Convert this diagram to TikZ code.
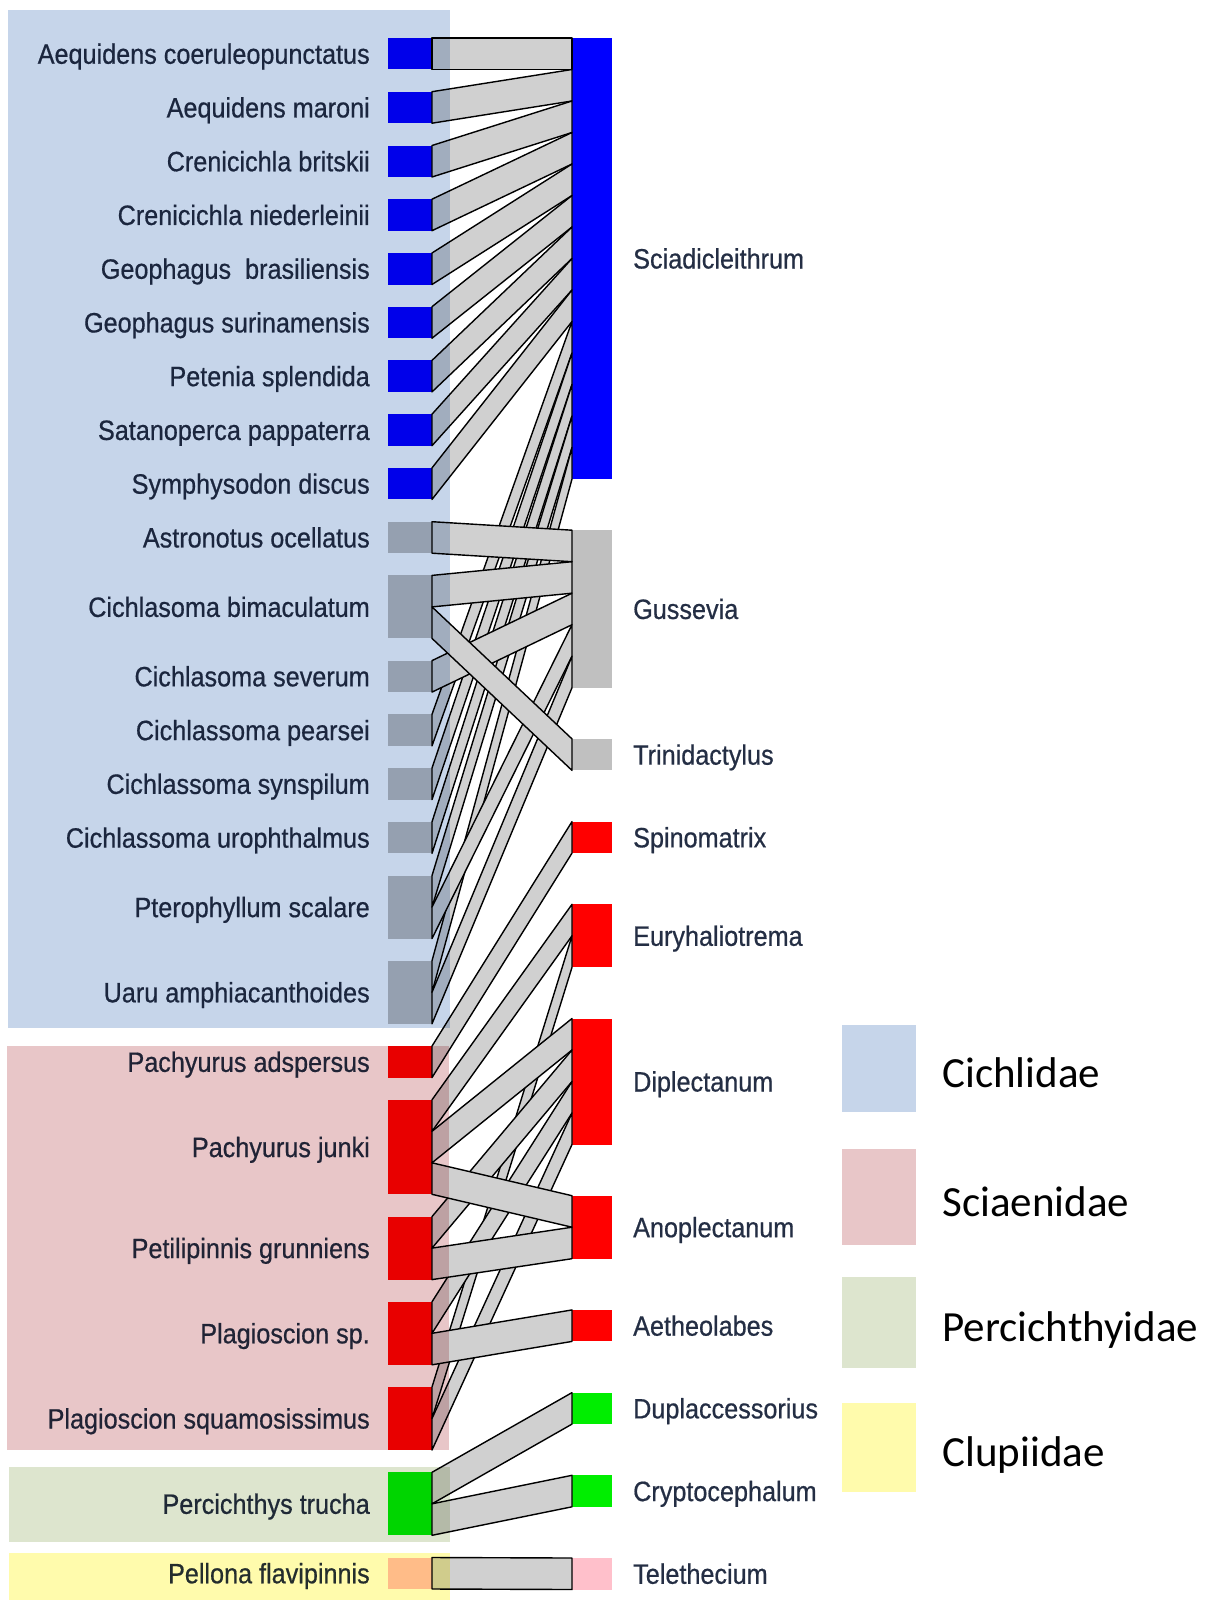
\documentclass[tikz,border=0pt]{standalone}
\usepackage{fontspec}
\setmainfont[FakeStretch=0.9,FakeBold=0.6]{Liberation Sans}
\newfontfamily\legendfont{Carlito}
\usetikzlibrary{positioning,calc}

\definecolor{cichbg}{RGB}{198,213,234}
\definecolor{sciabg}{RGB}{232,198,200}
\definecolor{percbg}{RGB}{221,229,206}
\definecolor{clupbg}{RGB}{255,251,172}
\definecolor{sciadblue}{RGB}{0,0,255}
\definecolor{gussgrey}{RGB}{192,192,192}
\definecolor{diplred}{RGB}{255,0,0}
\definecolor{duplgreen}{RGB}{0,238,0}
\definecolor{telepink}{RGB}{255,192,203}
\definecolor{linkgrey}{RGB}{208,208,208}
\definecolor{labtext}{RGB}{36,46,68}

\begin{document}
\begin{tikzpicture}[x=1pt,y=-1pt,
    host/.style={rectangle, inner sep=0pt, outer sep=0pt, minimum width=44pt, anchor=north west},
    para/.style={rectangle, inner sep=0pt, outer sep=0pt, minimum width=40pt, anchor=north west},
    link/.style={draw=black, fill=linkgrey, line width=1.4pt, line join=round},
    lab/.style={font=\fontsize{28}{30}\selectfont, text=labtext, inner sep=0pt, text height=20pt, text depth=0pt},
    leg/.style={rectangle, inner sep=0pt, minimum width=74pt},
    legtext/.style={font=\legendfont\fontsize{43}{46}\selectfont, inner sep=0pt, text height=28pt, text depth=0pt}
  ]
    \useasboundingbox (0,0) rectangle (1211,1600);

    % host fishes
    \foreach \n/\y/\h/\c/\t in {
        aecoe/38/31.5/sciadblue/Aequidens coeruleopunctatus,
        aemar/91.7/31.5/sciadblue/Aequidens maroni,
        crbri/145.5/31.5/sciadblue/Crenicichla britskii,
        crnie/199.2/31.5/sciadblue/Crenicichla niederleinii,
        gebra/253/31.5/sciadblue/Geophagus\ \ brasiliensis,
        gesur/306.7/31.5/sciadblue/Geophagus surinamensis,
        pespl/360.4/31.5/sciadblue/Petenia splendida,
        sapap/414.2/31.5/sciadblue/Satanoperca pappaterra,
        sydis/467.9/31.5/sciadblue/Symphysodon discus,
        asoce/521.7/31.5/gussgrey/Astronotus ocellatus,
        cibim/575.4/63/gussgrey/Cichlasoma bimaculatum,
        cisev/660.6/31.5/gussgrey/Cichlasoma severum,
        cipea/714.4/31.5/gussgrey/Cichlassoma pearsei,
        cisyn/768.1/31.5/gussgrey/Cichlassoma synspilum,
        ciuro/821.9/31.5/gussgrey/Cichlassoma urophthalmus,
        ptsca/875.6/63/gussgrey/Pterophyllum scalare,
        uaamp/960.8/63/gussgrey/Uaru amphiacanthoides,
        paads/1046.1/31.5/diplred/Pachyurus adspersus,
        pajun/1099.8/94.5/diplred/Pachyurus junki,
        pegru/1216.6/63/diplred/Petilipinnis grunniens,
        plasp/1301.8/63/diplred/Plagioscion sp.,
        plsqu/1387/63/diplred/Plagioscion squamosissimus,
        petru/1472.3/63/duplgreen/Percichthys trucha,
        pefla/1557.5/31.5/telepink/Pellona flavipinnis}
      {
        \node[host, fill=\c, minimum height=\h pt] (\n) at (388,\y) {};
        \node[lab, left=18pt of \n] (\n-t) {\t};
      }

    % parasite genera
    \foreach \n/\y/\h/\c/\t in {
        sciad/38/441/sciadblue/Sciadicleithrum,
        guss/530.2/157.5/gussgrey/Gussevia,
        trin/738.9/31.5/gussgrey/Trinidactylus,
        spin/821.6/31.5/diplred/Spinomatrix,
        eury/904.3/63/diplred/Euryhaliotrema,
        dipl/1018.5/126/diplred/Diplectanum,
        anop/1195.7/63/diplred/Anoplectanum,
        aeth/1309.9/31.5/diplred/Aetheolabes,
        dupl/1392.6/31.5/duplgreen/Duplaccessorius,
        cryp/1475.3/31.5/duplgreen/Cryptocephalum,
        tele/1558/31.5/telepink/Telethecium}
      {
        \node[para, fill=\c, minimum height=\h pt] (\n) at (572,\y) {};
        \node[lab, right=21pt of \n] (\n-t) {\t};
      }

    % interactions: host/slot/parasite/slot
    \foreach \h/\i/\p/\j in {
        aecoe/0/sciad/0, aemar/0/sciad/1, crbri/0/sciad/2, crnie/0/sciad/3,
        gebra/0/sciad/4, gesur/0/sciad/5, pespl/0/sciad/6, sapap/0/sciad/7,
        sydis/0/sciad/8, cipea/0/sciad/9, cisyn/0/sciad/10, ciuro/0/sciad/11,
        ptsca/0/sciad/12, uaamp/0/sciad/13,
        asoce/0/guss/0, cibim/0/guss/1, cisev/0/guss/2, ptsca/1/guss/3, uaamp/1/guss/4,
        cibim/1/trin/0,
        paads/0/spin/0,
        pajun/0/eury/0, plsqu/0/eury/1,
        pajun/1/dipl/0, pegru/0/dipl/1, plasp/0/dipl/2, plsqu/1/dipl/3,
        pajun/2/anop/0, pegru/1/anop/1,
        plasp/1/aeth/0,
        petru/0/dupl/0, petru/1/cryp/0,
        pefla/0/tele/0}
      \draw[link] ($(\h.north east)+(0,\i*31.5)$) -- ($(\p.north west)+(0,\j*31.5)$)
        -- ($(\p.north west)+(0,\j*31.5+31.5)$) -- ($(\h.north east)+(0,\i*31.5+31.5)$) -- cycle;

    % family shading
    \begin{scope}[blend mode=multiply]
      \fill[cichbg] (8,10) rectangle (450,1028);
      \fill[sciabg] (7,1046) rectangle (449,1450);
      \fill[percbg] (9,1467) rectangle (450,1542);
      \fill[clupbg] (9,1553) rectangle (450,1600);
    \end{scope}

    % legend
    \node[leg, fill=cichbg, minimum height=87pt] (legcich) at (879,1068.5) {};
    \node[leg, fill=sciabg, minimum height=96pt] (legscia) at (879,1197) {};
    \node[leg, fill=percbg, minimum height=91pt] (legperc) at (879,1322.5) {};
    \node[leg, fill=clupbg, minimum height=89pt] (legclup) at (879,1447.5) {};
    \node[legtext, right=26pt of legcich, yshift=-5pt] (legcich-t) {Cichlidae};
    \node[legtext, right=26pt of legscia, yshift=-5pt] (legscia-t) {Sciaenidae};
    \node[legtext, right=26pt of legperc, yshift=-5pt] (legperc-t) {Percichthyidae};
    \node[legtext, right=26pt of legclup, yshift=-5pt] (legclup-t) {Clupiidae};
  \end{tikzpicture}
\end{document}
